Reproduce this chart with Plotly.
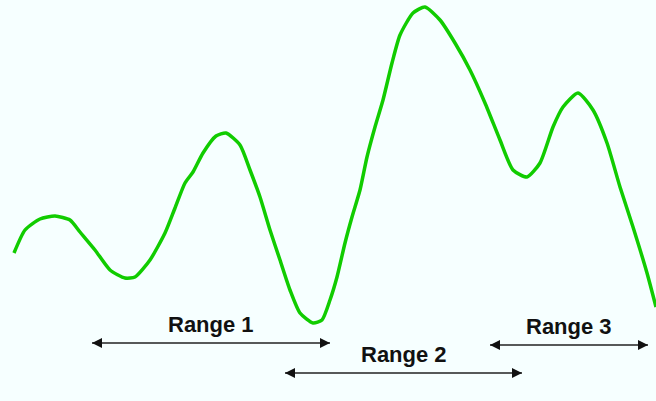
import plotly.graph_objects as go

# curve samples (x position, height in image units, y grows downward)
curve_x = [14, 25, 40, 55, 70, 80, 95, 110, 125, 135, 150, 165, 175, 185, 193, 203, 216, 226, 240, 250, 260, 270, 280, 290, 300, 313, 322,
           330, 337, 345, 352, 360, 367, 375, 383, 392, 400, 413, 425, 440, 455, 470, 485, 500, 513, 527, 540, 553, 563, 578, 593, 607, 620, 633, 647, 656]
curve_y = [253, 230, 219, 216, 220, 232, 250, 270, 278, 277, 260, 233, 208, 183, 172, 153, 136, 133, 145, 170, 197, 230, 260, 290, 313, 323, 320,
           300, 277, 243, 217, 190, 157, 127, 100, 63, 35, 13, 7, 20, 43, 70, 103, 140, 170, 177, 163, 127, 107, 93, 110, 143, 187, 227, 273, 307]

range_labels = ["Range 1", "Range 2", "Range 3"]
range_start = [92, 285, 490]
range_end = [330, 522, 648]
range_level = [343, 373, 345]

fig = go.Figure()
fig.add_trace(go.Scatter(x=curve_x, y=curve_y, mode="lines",
                         line=dict(color="#11CC00", width=3.5, shape="spline", smoothing=0.6),
                         hoverinfo="skip"))

for lab, s, e, lv in zip(range_labels, range_start, range_end, range_level):
    fig.add_trace(go.Scatter(x=[s, e], y=[lv, lv], mode="lines",
                             line=dict(color="#222222", width=1.5), hoverinfo="skip"))
    fig.add_trace(go.Scatter(x=[s, e], y=[lv, lv], mode="markers",
                             marker=dict(symbol=["arrow-bar-left", "arrow-bar-right"], size=10,
                                         color="#111111", line=dict(width=0)),
                             hoverinfo="skip"))
    fig.add_annotation(x=(s + e) / 2, y=lv - 4, text=lab, showarrow=False,
                       yanchor="bottom", xanchor="center",
                       font=dict(family="Liberation Sans, Arial", size=22, color="#111111", weight="bold"))

fig.update_layout(width=656, height=401, margin=dict(l=0, r=0, t=0, b=0),
                  paper_bgcolor="#F6FFFF", plot_bgcolor="#F6FFFF", showlegend=False,
                  xaxis=dict(range=[0, 656], visible=False, fixedrange=True),
                  yaxis=dict(range=[401, 0], visible=False, fixedrange=True))
fig.write_html("out.html", config={"displayModeBar": False},
               post_script="document.body.style.margin='0';document.body.style.padding='0';"
                           "document.body.style.overflow='hidden';document.body.style.background='#F6FFFF';")
